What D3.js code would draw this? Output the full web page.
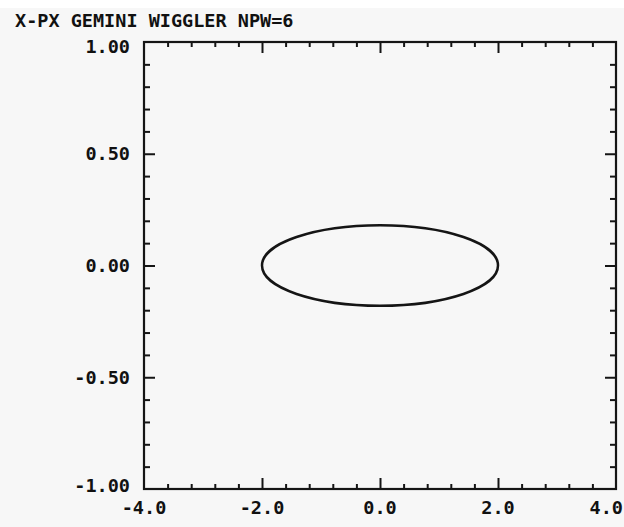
<!DOCTYPE html>
<html>
<head>
<meta charset="utf-8">
<script src="https://cdn.jsdelivr.net/npm/d3@7"></script>
<style>
  html, body { margin: 0; padding: 0; background: #f7f7f7; }
  svg { display: block; }
  .lbl { font-family: "DejaVu Sans Mono", "Liberation Mono", monospace; font-weight: bold; font-size: 18.5px; fill: #111; }
</style>
</head>
<body>
<svg id="chart" width="624" height="527"></svg>
<script>
// Phase-space plot: x vs px for the Gemini wiggler (NPW=6)
const title = "X-PX GEMINI WIGGLER NPW=6";

const xDomain = [-4, 4];
const yDomain = [-1, 1];

const xMajorTicks = [-4, -2, 0, 2, 4];
const xTickLabels = ["-4.0", "-2.0", "0.0", "2.0", "4.0"];
const xMinorTicks = [-3.6, -3.2, -2.8, -2.4, -1.6, -1.2, -0.8, -0.4, 0.4, 0.8, 1.2, 1.6, 2.4, 2.8, 3.2, 3.6];

const yMajorTicks = [-1, -0.5, 0, 0.5, 1];
const yTickLabels = ["-1.00", "-0.50", "0.00", "0.50", "1.00"];
const yMinorTicks = [-0.9, -0.8, -0.7, -0.6, -0.4, -0.3, -0.2, -0.1, 0.1, 0.2, 0.3, 0.4, 0.6, 0.7, 0.8, 0.9];

// Beam ellipse: centre and half-widths in (x, px)
const ellipseCenter = [0.0, 0.0];
const ellipseHalfAxes = [2.0, 0.18];

const W = 624, H = 527;
const margin = { left: 144, right: 8, top: 42, bottom: 38 };

const svg = d3.select("#chart");
svg.append("rect").attr("width", W).attr("height", H).attr("fill", "#f7f7f7");
svg.append("rect").attr("width", W).attr("height", 8).attr("fill", "#ffffff");

const x = d3.scaleLinear().domain(xDomain).range([margin.left, W - margin.right]);
const y = d3.scaleLinear().domain(yDomain).range([H - margin.bottom, margin.top]);

const ink = "#151515";

function styleAxis(g) {
  g.select(".domain").remove();
  g.selectAll(".tick line").attr("stroke", ink).attr("stroke-width", 2);
  g.selectAll(".tick text").remove();
}

const y0 = y.range()[0], y1 = y.range()[1];
const x0 = x.range()[0], x1 = x.range()[1];

// bottom ticks (pointing up)
svg.append("g").attr("transform", `translate(0,${y0})`)
  .call(d3.axisBottom(x).tickValues(xMinorTicks).tickSizeInner(-5).tickSizeOuter(0)).call(styleAxis);
svg.append("g").attr("transform", `translate(0,${y0})`)
  .call(d3.axisBottom(x).tickValues(xMajorTicks.slice(1, -1)).tickSizeInner(-11).tickSizeOuter(0)).call(styleAxis);
// top ticks (pointing down)
svg.append("g").attr("transform", `translate(0,${y1})`)
  .call(d3.axisTop(x).tickValues(xMinorTicks).tickSizeInner(-5).tickSizeOuter(0)).call(styleAxis);
svg.append("g").attr("transform", `translate(0,${y1})`)
  .call(d3.axisTop(x).tickValues(xMajorTicks.slice(1, -1)).tickSizeInner(-11).tickSizeOuter(0)).call(styleAxis);
// left ticks (pointing right)
svg.append("g").attr("transform", `translate(${x0},0)`)
  .call(d3.axisLeft(y).tickValues(yMinorTicks).tickSizeInner(-6).tickSizeOuter(0)).call(styleAxis);
svg.append("g").attr("transform", `translate(${x0},0)`)
  .call(d3.axisLeft(y).tickValues(yMajorTicks.slice(1, -1)).tickSizeInner(-11).tickSizeOuter(0)).call(styleAxis);
// right ticks (pointing left)
svg.append("g").attr("transform", `translate(${x1},0)`)
  .call(d3.axisRight(y).tickValues(yMinorTicks).tickSizeInner(-6).tickSizeOuter(0)).call(styleAxis);
svg.append("g").attr("transform", `translate(${x1},0)`)
  .call(d3.axisRight(y).tickValues(yMajorTicks.slice(1, -1)).tickSizeInner(-11).tickSizeOuter(0)).call(styleAxis);

// frame
svg.append("rect")
  .attr("x", x0).attr("y", y1)
  .attr("width", x1 - x0).attr("height", y0 - y1)
  .attr("fill", "none").attr("stroke", ink).attr("stroke-width", 2.2);

// tick labels; the last x label is kept inside the page edge
const lastX = xMajorTicks.length - 1;
svg.append("g").selectAll("text").data(xMajorTicks).join("text")
  .attr("class", "lbl")
  .attr("x", (d, i) => i === lastX ? W - 1 : x(d))
  .attr("y", y0 + 25)
  .attr("text-anchor", (d, i) => i === lastX ? "end" : "middle")
  .text((d, i) => xTickLabels[i]);

// y labels at the ends sit slightly inside the frame
svg.append("g").selectAll("text").data(yMajorTicks).join("text")
  .attr("class", "lbl")
  .attr("x", x0 - 14)
  .attr("y", d => Math.max(y1 + 4, Math.min(y0 - 4, y(d))))
  .attr("dy", "0.36em")
  .attr("text-anchor", "end")
  .text((d, i) => yTickLabels[i]);

// title
svg.append("text").attr("class", "lbl")
  .attr("x", 15).attr("y", 27)
  .text(title);

// ellipse
svg.append("ellipse")
  .attr("cx", x(ellipseCenter[0]))
  .attr("cy", y(ellipseCenter[1]))
  .attr("rx", x(ellipseCenter[0] + ellipseHalfAxes[0]) - x(ellipseCenter[0]))
  .attr("ry", y(ellipseCenter[1]) - y(ellipseCenter[1] + ellipseHalfAxes[1]))
  .attr("fill", "none").attr("stroke", ink).attr("stroke-width", 2.5);
</script>
</body>
</html>
